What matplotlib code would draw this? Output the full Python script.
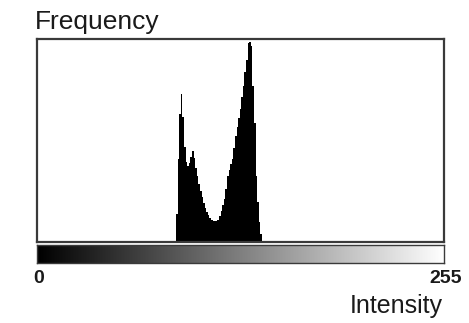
import numpy as np
import matplotlib
matplotlib.use("Agg")
import matplotlib.pyplot as plt

plt.rcParams['font.family'] = ['Liberation Sans', 'DejaVu Sans']

# Histogram data (intensity bins and frequency counts, arbitrary units)
intensity = list(range(87, 141))
frequency = [28, 83, 128, 148, 125, 95, 80, 76, 79, 85,
             91, 84, 74, 66, 58, 51, 45, 39, 34, 30,
             27, 24, 22, 21, 21, 21, 22, 26, 31, 37,
             43, 53, 66, 72, 78, 83, 94, 106, 115, 124,
             133, 145, 156, 170, 182, 199, 200, 196, 156, 119,
             66, 40, 20, 8]
x_min, x_max = 0, 255
x_tick_labels = ["0", "255"]
x_label = "Intensity"
y_label = "Frequency"

W, H = 469, 323
fig = plt.figure(figsize=(W / 100, H / 100), dpi=100)

left, right = 37 / W, 444 / W
ax = fig.add_axes([left, 1 - 242 / H, right - left, (242 - 39) / H])
ax.bar(intensity, frequency, width=1.0, align='edge', color='black', linewidth=0)
ax.set_xlim(x_min - 0.5, x_max + 0.5)
ax.set_ylim(0, 203)
ax.set_xticks([])
ax.set_yticks([])
for s in ax.spines.values():
    s.set_color('#3a3a3a')
    s.set_linewidth(1.6)

gax = fig.add_axes([left, 1 - 263 / H, right - left, (263 - 245) / H])
grad = np.linspace(x_min, x_max, 256).reshape(1, -1)
gax.imshow(grad, cmap='gray', aspect='auto', extent=[x_min, x_max + 1, 0, 1],
           vmin=x_min, vmax=x_max)
gax.set_xticks([])
gax.set_yticks([])
for s in gax.spines.values():
    s.set_color('#3a3a3a')
    s.set_linewidth(1.0)

fig.text(38.5 / W, 1 - 283 / H, x_tick_labels[0], ha='center', va='baseline',
         fontsize=14, fontweight='bold', color='#1a1a1a')
fig.text(446 / W, 1 - 283 / H, x_tick_labels[1], ha='center', va='baseline',
         fontsize=14, fontweight='bold', color='#1a1a1a')
fig.text(443 / W, 1 - 313 / H, x_label, ha='right', va='baseline',
         fontsize=18, color='#1a1a1a')
fig.text(35 / W, 1 - 29 / H, y_label, ha='left', va='baseline',
         fontsize=19, color='#1a1a1a')

fig.savefig('out.png', dpi=100)
